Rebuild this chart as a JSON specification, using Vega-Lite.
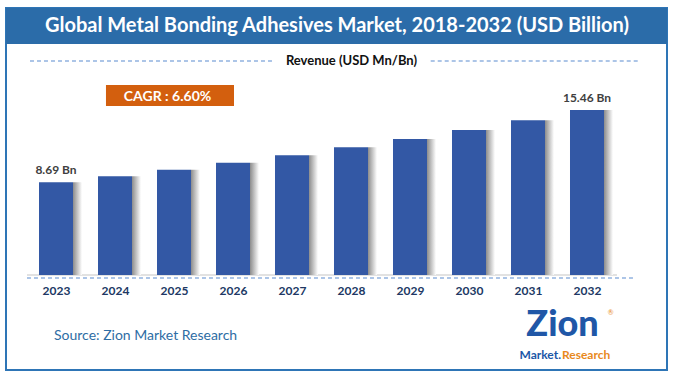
{
  "$schema": "https://vega.github.io/schema/vega-lite/v6.json",
  "width": 661,
  "height": 362,
  "autosize": {"type": "none"},
  "padding": {"left": 6, "top": 8, "right": 8, "bottom": 8},
  "background": "white",
  "config": {"view": {"stroke": "#2E75B6", "strokeWidth": 2}},
  "data": {
    "values": [
      {"year": 2023, "value": 8.69, "label": "8.69 Bn"},
      {"year": 2024, "value": 9.26, "label": ""},
      {"year": 2025, "value": 9.87, "label": ""},
      {"year": 2026, "value": 10.52, "label": ""},
      {"year": 2027, "value": 11.22, "label": ""},
      {"year": 2028, "value": 11.96, "label": ""},
      {"year": 2029, "value": 12.75, "label": ""},
      {"year": 2030, "value": 13.59, "label": ""},
      {"year": 2031, "value": 14.49, "label": ""},
      {"year": 2032, "value": 15.46, "label": "15.46 Bn"}
    ]
  },
  "layer": [
    {
      "data": {"values": [{}]},
      "mark": {"type": "rect", "color": "#2B6CA9"},
      "encoding": {
        "x": {"datum": 2022.1525, "type": "quantitative", "scale": {"domain": [2022.1525, 2033.356], "nice": false, "zero": false, "padding": 0}},
        "x2": {"datum": 2033.356},
        "y": {"datum": 25.016, "type": "quantitative", "scale": {"domain": [-8.901, 25.016], "nice": false, "zero": false, "padding": 0}, "axis": null},
        "y2": {"datum": 21.64}
      }
    },
    {
      "data": {"values": [{}]},
      "mark": {"type": "text", "font": "Lato", "fontWeight": "bold", "fontSize": 20, "color": "white", "align": "center", "baseline": "middle"},
      "encoding": {
        "x": {"datum": 2027.763, "type": "quantitative"},
        "y": {"datum": 23.33, "type": "quantitative"},
        "text": {"value": "Global Metal Bonding Adhesives Market, 2018-2032 (USD Billion)"}
      }
    },
    {
      "data": {"values": [{"a": 2022.559, "b": 2026.661}, {"a": 2029.351, "b": 2032.881}]},
      "mark": {"type": "rule", "color": "#5B8BD0", "strokeWidth": 1.2, "strokeDash": [4, 3]},
      "encoding": {
        "x": {"field": "a", "type": "quantitative"},
        "x2": {"field": "b"},
        "y": {"datum": 20.05, "type": "quantitative"}
      }
    },
    {
      "data": {"values": [{}]},
      "mark": {"type": "text", "font": "Lato", "fontWeight": "bold", "fontSize": 13, "color": "#111111", "align": "center", "baseline": "middle"},
      "encoding": {
        "x": {"datum": 2028.008, "type": "quantitative"},
        "y": {"datum": 20.05, "type": "quantitative"},
        "text": {"value": "Revenue (USD Mn/Bn)"}
      }
    },
    {
      "data": {"values": [{}]},
      "mark": {"type": "rect", "color": "#D35F0E"},
      "encoding": {
        "x": {"datum": 2023.847, "type": "quantitative"},
        "x2": {"datum": 2026.017},
        "y": {"datum": 17.8, "type": "quantitative"},
        "y2": {"datum": 15.83}
      }
    },
    {
      "data": {"values": [{}]},
      "mark": {"type": "text", "font": "Lato", "fontWeight": "bold", "fontSize": 14, "color": "white", "align": "center", "baseline": "middle"},
      "encoding": {
        "x": {"datum": 2024.89, "type": "quantitative"},
        "y": {"datum": 16.71, "type": "quantitative"},
        "text": {"value": "CAGR : 6.60%"}
      }
    },
    {
      "data": {"values": [{}]},
      "mark": {"type": "rule", "color": "#D9D9D9", "strokeWidth": 1.5},
      "encoding": {
        "x": {"datum": 2022.508, "type": "quantitative"},
        "x2": {"datum": 2032.508},
        "y": {"datum": 0, "type": "quantitative"}
      }
    },
    {
      "data": {"values": [{}]},
      "mark": {"type": "rule", "color": "#5B8BD0", "strokeWidth": 1.2, "strokeDash": [4, 3]},
      "encoding": {
        "x": {"datum": 2022.508, "type": "quantitative"},
        "x2": {"datum": 2032.814},
        "y": {"datum": -0.281, "type": "quantitative"}
      }
    },
    {
      "mark": {
        "type": "bar",
        "orient": "vertical",
        "width": 9,
        "xOffset": 21.5,
        "color": {"gradient": "linear", "x1": 0, "y1": 0, "x2": 1, "y2": 0, "stops": [{"offset": 0, "color": "#8C8C8C"}, {"offset": 1, "color": "#FFFFFF"}]}
      },
      "encoding": {
        "x": {"field": "year", "type": "quantitative"},
        "y": {"field": "value", "type": "quantitative"},
        "y2": {"datum": 0}
      }
    },
    {
      "mark": {"type": "bar", "orient": "vertical", "width": 34, "color": "#3358A5"},
      "encoding": {
        "x": {
          "field": "year",
          "type": "quantitative",
          "axis": {
            "values": [2023, 2024, 2025, 2026, 2027, 2028, 2029, 2030, 2031, 2032],
            "format": "d",
            "title": null,
            "domain": false,
            "ticks": false,
            "grid": false,
            "offset": -88,
            "labelPadding": 3,
            "labelFont": "Lato",
            "labelFontWeight": "bold",
            "labelFontSize": 12,
            "labelColor": "#203864"
          }
        },
        "y": {"field": "value", "type": "quantitative"},
        "y2": {"datum": 0}
      }
    },
    {
      "mark": {"type": "text", "font": "Lato", "fontWeight": "bold", "fontSize": 12, "color": "#404040", "align": "center", "baseline": "middle", "dy": -12},
      "encoding": {
        "x": {"field": "year", "type": "quantitative"},
        "y": {"field": "value", "type": "quantitative"},
        "text": {"field": "label"}
      }
    },
    {
      "data": {"values": [{}]},
      "mark": {"type": "text", "font": "Lato", "fontSize": 14, "color": "#2E6DA4", "align": "left", "baseline": "alphabetic"},
      "encoding": {
        "x": {"datum": 2022.966, "type": "quantitative"},
        "y": {"datum": -6.09, "type": "quantitative"},
        "text": {"value": "Source: Zion Market Research"}
      }
    },
    {
      "data": {"values": [{}]},
      "mark": {"type": "text", "font": "Lato", "fontWeight": 900, "fontSize": 36, "color": "#2057A7", "align": "center", "baseline": "alphabetic"},
      "encoding": {
        "x": {"datum": 2031.585, "type": "quantitative"},
        "y": {"datum": -5.715, "type": "quantitative"},
        "text": {"value": "Zion"}
      }
    },
    {
      "data": {"values": [{}]},
      "mark": {"type": "text", "font": "Lato", "fontWeight": "bold", "fontSize": 12, "color": "#2057A7", "align": "right", "baseline": "alphabetic"},
      "encoding": {
        "x": {"datum": 2031.56, "type": "quantitative"},
        "y": {"datum": -7.87, "type": "quantitative"},
        "text": {"value": "Market."}
      }
    },
    {
      "data": {"values": [{}]},
      "mark": {"type": "text", "font": "Lato", "fontWeight": "bold", "fontSize": 12, "color": "#E8891C", "align": "left", "baseline": "alphabetic"},
      "encoding": {
        "x": {"datum": 2031.575, "type": "quantitative"},
        "y": {"datum": -7.87, "type": "quantitative"},
        "text": {"value": "Research"}
      }
    },
    {
      "data": {"values": [{}]},
      "mark": {"type": "text", "font": "Lato", "fontSize": 7, "color": "#E8891C", "align": "center", "baseline": "middle"},
      "encoding": {
        "x": {"datum": 2032.4, "type": "quantitative"},
        "y": {"datum": -3.56, "type": "quantitative"},
        "text": {"value": "®"}
      }
    }
  ]
}
